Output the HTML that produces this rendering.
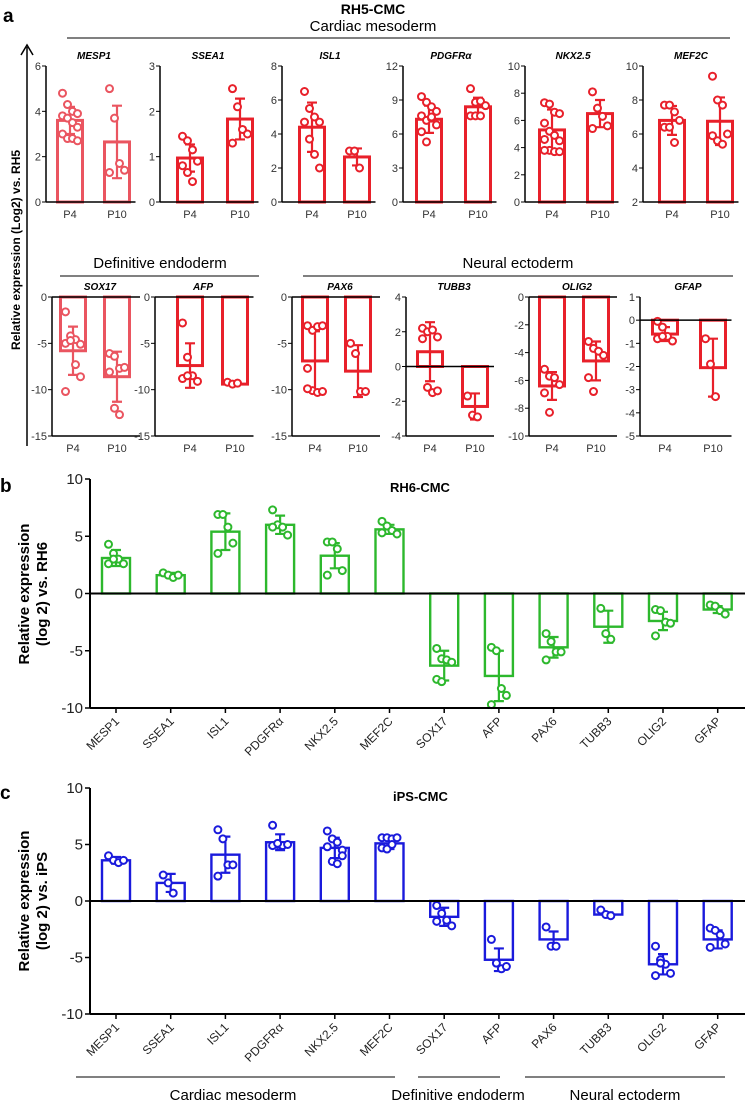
<!DOCTYPE html>
<html><head><meta charset="utf-8"><style>
html,body{margin:0;padding:0;background:#fff}
svg{display:block;font-family:"Liberation Sans",Arial,sans-serif}
</style></head><body>
<svg id="fig" width="747" height="1103" viewBox="0 0 747 1103" xmlns="http://www.w3.org/2000/svg">
<g>
<text x="3" y="22" font-size="19" font-weight="bold">a</text>
<text x="373" y="14" font-size="14" font-weight="bold" text-anchor="middle">RH5-CMC</text>
<text x="373" y="31" font-size="15" text-anchor="middle">Cardiac mesoderm</text>
<line x1="67" y1="38" x2="730" y2="38" stroke="#000" stroke-width="1"/>
<text x="160" y="268" font-size="15" text-anchor="middle">Definitive endoderm</text>
<line x1="60" y1="276" x2="259" y2="276" stroke="#000" stroke-width="1"/>
<text x="518" y="268" font-size="15" text-anchor="middle">Neural ectoderm</text>
<line x1="303" y1="276" x2="733" y2="276" stroke="#000" stroke-width="1"/>
<line x1="27" y1="446" x2="27" y2="47" stroke="#000" stroke-width="1.5"/>
<polyline points="21,55 27,45 33,55" fill="none" stroke="#000" stroke-width="1.5"/>
<text transform="translate(20,250) rotate(-90)" font-size="12" font-weight="bold" text-anchor="middle">Relative expression (Log2) vs. RH5</text>
</g>
<g>
<text x="0" y="492" font-size="19" font-weight="bold">b</text>
<text x="390" y="492" font-size="13" font-weight="bold">RH6-CMC</text>
<text transform="translate(29,594) rotate(-90)" font-size="15" font-weight="bold" text-anchor="middle">Relative expression</text>
<text transform="translate(47,594) rotate(-90)" font-size="15" font-weight="bold" text-anchor="middle">(log 2) vs. RH6</text>
</g>
<g>
<text x="0" y="799" font-size="19" font-weight="bold">c</text>
<text x="393" y="801" font-size="13" font-weight="bold">iPS-CMC</text>
<text transform="translate(29,901) rotate(-90)" font-size="15" font-weight="bold" text-anchor="middle">Relative expression</text>
<text transform="translate(47,901) rotate(-90)" font-size="15" font-weight="bold" text-anchor="middle">(log 2) vs. iPS</text>
<line x1="76" y1="1077" x2="395" y2="1077" stroke="#000" stroke-width="1"/>
<line x1="418" y1="1077" x2="500" y2="1077" stroke="#000" stroke-width="1"/>
<line x1="525" y1="1077" x2="725" y2="1077" stroke="#000" stroke-width="1"/>
<text x="233" y="1100" font-size="15" text-anchor="middle">Cardiac mesoderm</text>
<text x="458" y="1100" font-size="15" text-anchor="middle">Definitive endoderm</text>
<text x="625" y="1100" font-size="15" text-anchor="middle">Neural ectoderm</text>
</g>
</svg>
<script>
// ---- Panel a data ----
const aGenes = ["MESP1","SSEA1","ISL1","PDGFRα","NKX2.5","MEF2C","SOX17","AFP","PAX6","TUBB3","OLIG2","GFAP"];
const aGroups = ["P4","P10"];
const aYMin = [0,0,0,0,0,2,-15,-15,-15,-4,-10,-5];
const aYMax = [6,3,8,12,10,10,0,0,0,4,0,1];
const aTickStep = [2,1,2,3,2,2,5,5,5,2,2,1];
const aMeanP4 = [3.6,0.97,4.4,7.3,5.3,6.8,-5.8,-7.4,-6.9,0.85,-6.4,-0.6];
const aSdP4 = [0.6,0.3,1.45,1.2,1.5,0.85,2.6,2.4,3.2,1.7,1.0,0.3];
const aMeanP10 = [2.65,1.83,2.65,8.4,6.5,6.75,-8.6,-9.4,-8.0,-2.3,-4.6,-2.05];
const aSdP10 = [1.6,0.45,0.5,0.8,1.0,1.4,2.7,0.1,2.8,0.75,1.4,1.25];
const aPtsP4 = [
 [4.8,4.3,4.0,3.9,3.8,3.7,3.5,3.3,3.0,2.8,2.8,2.7],
 [1.45,1.35,1.15,0.9,0.8,0.65,0.45],
 [6.5,5.5,5.0,4.7,4.7,3.7,2.8,2.0],
 [9.3,8.8,8.4,8.0,7.6,7.2,7.4,6.8,6.2,5.3,7.5],
 [7.3,7.2,6.6,6.5,5.8,5.2,4.9,4.5,4.6,3.8,3.7,3.7,3.8],
 [7.7,7.7,7.3,6.8,6.4,6.4,5.5],
 [-1.6,-4.2,-4.6,-5.1,-5.0,-4.7,-7.3,-8.6,-10.2],
 [-2.8,-6.5,-8.5,-9.1,-8.8,-8.5],
 [-3.1,-3.6,-3.2,-3.1,-7.7,-10.1,-10.3,-10.2,-9.9],
 [2.2,2.0,2.1,1.7,1.6,-1.2,-1.5,-1.4],
 [-5.2,-5.7,-5.8,-6.3,-6.9,-8.3],
 [-0.05,-0.3,-0.7,-0.9,-0.8,-0.7]];
const aPtsP10 = [
 [5.0,3.7,1.7,1.4,1.3],
 [2.5,2.1,1.6,1.5,1.3],
 [3.0,3.0,2.0],
 [10.0,8.8,8.9,8.5,7.6,7.6,7.6],
 [8.1,6.9,6.3,5.6,5.4],
 [9.4,8.0,7.7,6.0,5.9,5.6,5.4],
 [-6.1,-6.4,-7.7,-7.6,-8.1,-12.0,-12.7],
 [-9.2,-9.4,-9.3],
 [-5.0,-6.1,-10.2,-10.2],
 [-1.7,-2.8,-2.9],
 [-3.2,-3.7,-3.9,-4.2,-5.8,-6.8],
 [-0.8,-1.9,-3.3]];

// ---- Panel b data ----
const bCats = ["MESP1","SSEA1","ISL1","PDGFRα","NKX2.5","MEF2C","SOX17","AFP","PAX6","TUBB3","OLIG2","GFAP"];
const bMeans = [3.1,1.6,5.4,6.0,3.3,5.6,-6.3,-7.2,-4.7,-2.9,-2.4,-1.4];
const bSds = [0.7,0.2,1.6,0.8,1.1,0.4,1.3,2.2,0.9,1.4,0.8,0.3];
const bPts = [[4.3,3.5,3.0,2.6,2.6,3.0],[1.8,1.6,1.4,1.6],[6.9,6.9,5.8,4.4,3.5],[7.3,6.0,5.8,5.1,5.8],[4.5,4.5,3.9,2.0,1.6],[6.3,5.9,5.5,5.2,5.3],[-4.8,-5.7,-5.8,-6.0,-7.5,-7.7],[-4.7,-5.0,-8.3,-8.9,-9.7],[-3.5,-4.2,-5.1,-5.1,-5.8],[-1.3,-3.5,-4.0],[-1.4,-1.5,-2.5,-2.6,-3.7],[-1.0,-1.1,-1.5,-1.8]];

// ---- Panel c data ----
const cCats = ["MESP1","SSEA1","ISL1","PDGFRα","NKX2.5","MEF2C","SOX17","AFP","PAX6","TUBB3","OLIG2","GFAP"];
const cMeans = [3.6,1.6,4.1,5.2,4.7,5.1,-1.4,-5.2,-3.4,-1.2,-5.6,-3.4];
const cSds = [0.3,0.8,1.6,0.7,0.9,0.5,0.8,1.0,0.7,0.2,0.9,0.8];
const cPts = [[4.0,3.6,3.4,3.6],[2.3,1.6,0.7],[6.3,5.5,3.2,3.2,2.2],[6.7,5.0,4.9,5.0,4.9,5.1],[6.2,5.5,5.2,4.5,4.8,3.5,3.3,4.0],[5.6,5.6,5.5,5.6,4.7,4.6,5.0],[-0.4,-1.1,-1.7,-2.2,-1.8],[-3.4,-5.5,-6.0,-5.8],[-2.3,-4.0,-4.0],[-0.8,-1.2,-1.3],[-4.0,-5.2,-5.6,-6.4,-6.6,-5.5],[-2.4,-2.6,-3.0,-3.8,-4.1]];
const bcTicks = [10,5,0,-5,-10];

const NS="http://www.w3.org/2000/svg";
const svg=document.getElementById('fig');
function mk(tag,attrs,parent){const e=document.createElementNS(NS,tag);for(const k in attrs)e.setAttribute(k,attrs[k]);(parent||svg).appendChild(e);return e;}

const aAxisX=[46,160,282,403,525,643,52,155,292,406,529,640];
const aOff4=[24,30,30,26,27,29,21,35,23,24,23,25];
const aOff10=[71,80,75,75,75,77,65,80,66,69,67,73];
const aColors=["#ea5560","#e8202a","#e8202a","#e8202a","#e8202a","#e8202a","#ea5560","#e8202a","#e8202a","#e8202a","#e8202a","#e8202a"];

function drawGroup(g,cx,mean,sd,pts,yf,base,bw,col,name,sw){
  const b=mk('rect',{x:cx-bw/2,y:Math.min(yf(mean),yf(base)),width:bw,height:Math.abs(yf(mean)-yf(base)),fill:'none',stroke:col,'stroke-width':sw},g);
  
  
  const e=mk('path',{d:`M${cx},${yf(mean+sd)}V${yf(mean-sd)}M${cx-5},${yf(mean+sd)}H${cx+5}M${cx-5},${yf(mean-sd)}H${cx+5}`,stroke:col,'stroke-width':2.2,fill:'none'},g);
  
  
  pts.forEach((v,i)=>{
    const n=pts.length;const dx=n>1?((i%4)-1.5)*5:0;
    const c=mk('circle',{cx:cx+dx,cy:yf(v),r:3.5,fill:'#fff',stroke:col,'stroke-width':2},g);
    
    
  });
}

aGenes.forEach((gname,i)=>{
  const top=i<6, yT=top?66:297, yB=top?202:436;
  const ax=aAxisX[i], lo=aYMin[i], hi=aYMax[i], col=aColors[i];
  const yf=v=>yB-(v-lo)/(hi-lo)*(yB-yT);
  const g=mk('g',{});
  
  
  const base=Math.max(lo,Math.min(0,hi));
  const cx4=ax+aOff4[i], cx10=ax+aOff10[i];
  const bw=25;
  drawGroup(g,cx4,aMeanP4[i],aSdP4[i],aPtsP4[i],yf,base,bw,col,'p4',3);
  drawGroup(g,cx10,aMeanP10[i],aSdP10[i],aPtsP10[i],yf,base,bw,col,'p10',3);
  const right=Math.max(cx10+bw/2+6,ax+88);
  const ya=mk('line',{x1:ax,y1:yT,x2:ax,y2:yB,stroke:'#000','stroke-width':1.5},g);
  
  
  const xa=mk('line',{x1:ax,y1:yB,x2:right,y2:yB,stroke:'#000','stroke-width':1.5},g);
  
  
  if(base!==lo){const zl=mk('line',{x1:ax,y1:yf(base),x2:right,y2:yf(base),stroke:'#000','stroke-width':1.5},g);
    
    }
  for(let t=lo;t<=hi+1e-9;t+=aTickStep[i]){
    const tk=mk('line',{x1:ax-4,y1:yf(t),x2:ax,y2:yf(t),stroke:'#000','stroke-width':1},g);
    
    
    const tl=mk('text',{x:ax-5,y:yf(t)+4,'font-size':11,'text-anchor':'end',fill:'#333'},g);
    tl.textContent=t;
    
    
  }
  [cx4,cx10].forEach((cx,k)=>{
    const xl=mk('text',{x:cx,y:yB+16,'font-size':11,'text-anchor':'middle',fill:'#333'},g);
    xl.textContent=aGroups[k];
    
    
  });
  const tt=mk('text',{x:ax+48,y:yT-7,'font-size':10,'font-weight':'bold','font-style':'italic','text-anchor':'middle'},g);
  tt.textContent=gname;
  
  
});

function bigChart(prefix,cats,means,sds,pts,yTop,yBot,col){
  const ax=90, x0=116, step=54.7, right=745;
  const yf=v=>yBot-(v+10)/20*(yBot-yTop);
  const g=mk('g',{});
  
  
  cats.forEach((c,i)=>{
    const cx=x0+i*step;
    drawGroup(g,cx,means[i],sds[i],pts[i],yf,0,28,col,prefix+'-'+c.toLowerCase().replace(/[^a-z0-9]/g,''),2.4);
    const tk=mk('line',{x1:cx,y1:yBot,x2:cx,y2:yBot+5,stroke:'#000','stroke-width':1.5},g);
    
    
    const tl=mk('text',{transform:`translate(${cx+4},${yBot+14}) rotate(-45)`,'font-size':12,'text-anchor':'end',fill:'#222'},g);
    tl.textContent=c;
    
    
  });
  const ya=mk('line',{x1:ax,y1:yTop,x2:ax,y2:yBot,stroke:'#000','stroke-width':2},g);
  
  
  const xa=mk('line',{x1:ax,y1:yBot,x2:right,y2:yBot,stroke:'#000','stroke-width':2},g);
  
  
  const zl=mk('line',{x1:ax,y1:yf(0),x2:right,y2:yf(0),stroke:'#000','stroke-width':2},g);
  
  
  bcTicks.forEach(t=>{
    const tk=mk('line',{x1:ax-5,y1:yf(t),x2:ax,y2:yf(t),stroke:'#000','stroke-width':1.5},g);
    
    
    const tl=mk('text',{x:ax-7,y:yf(t)+5,'font-size':15,'text-anchor':'end',fill:'#222'},g);
    tl.textContent=t;
    
    
  });
}
bigChart('rh6',bCats,bMeans,bSds,bPts,479,708,'#2db82d');
bigChart('ips',cCats,cMeans,cSds,cPts,788,1014,'#1a1adc');
</script>
</body></html>
